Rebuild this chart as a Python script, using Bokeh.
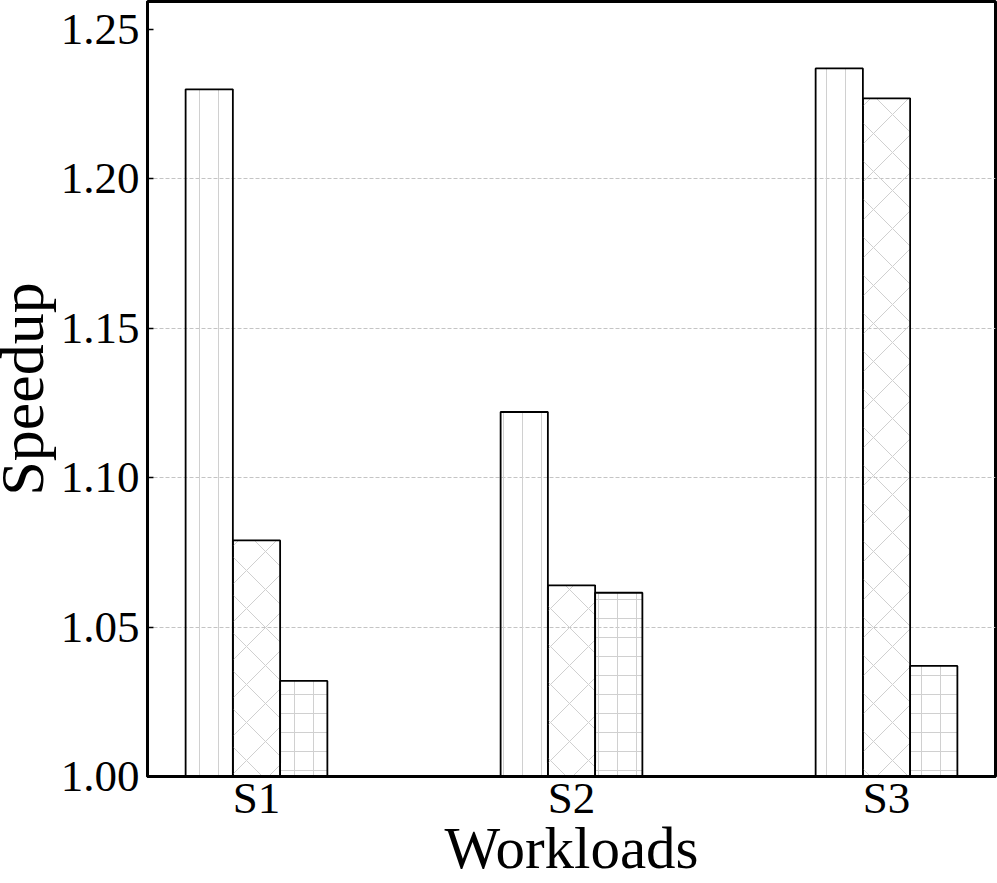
import numpy as np
from bokeh.plotting import figure
from bokeh.models import Range1d, FixedTicker, ColumnDataSource
from bokeh.embed import file_html
from bokeh.resources import INLINE

# ---- data ----
workloads = ["S1", "S2", "S3"]
series_a = [1.230, 1.122, 1.237]   # vertical-line hatch
series_b = [1.079, 1.064, 1.227]   # diagonal-cross hatch
series_c = [1.032, 1.0615, 1.037]  # grid hatch
y_ticks = [1.00, 1.05, 1.10, 1.15, 1.20, 1.25]
grid_ticks = [1.05, 1.10, 1.15, 1.20]

FONT = "Liberation Serif"
BAR_W = 0.15
SHIFT = 20  # figure is shifted left so the rotated label box can extend past the page edge
idx = np.arange(len(workloads))

p = figure(width=997 + SHIFT, height=883, output_backend="svg", toolbar_location=None,
           x_range=Range1d(-0.346, 2.346), y_range=Range1d(1.0, 1.2594),
           min_border_left=147 + SHIFT, min_border_right=2, min_border_top=1,
           min_border_bottom=106)
p.styles = {"margin-left": f"-{SHIFT}px"}
p.background_fill_color = "white"
p.border_fill_color = "white"
p.outline_line_color = "black"
p.outline_line_width = 3

specs = [
    (series_a, -BAR_W, "vertical_line", 19),
    (series_b, 0.0, "diagonal_cross", 38),
    (series_c, BAR_W, "cross", 19),
]
for vals, off, pat, sc in specs:
    src = ColumnDataSource(dict(x=idx + off, top=vals))
    p.vbar(x="x", top="top", bottom=1.0, width=BAR_W, source=src,
           fill_color=None, line_color="black", line_width=1.8,
           hatch_pattern=pat, hatch_color="#d0d0d0", hatch_weight=1,
           hatch_scale=sc)

# grid
p.xgrid.grid_line_color = None
p.ygrid.ticker = FixedTicker(ticks=grid_ticks)
p.ygrid.grid_line_color = "#c4c4c4"
p.ygrid.grid_line_dash = "4 2"
p.ygrid.grid_line_width = 1

# y axis
p.yaxis.ticker = FixedTicker(ticks=y_ticks)
p.yaxis.major_label_overrides = {t: f"{t:.2f}" for t in y_ticks}
p.yaxis.minor_tick_line_color = None
p.yaxis.major_tick_in = 6
p.yaxis.major_tick_out = 0
p.yaxis.major_tick_line_width = 1.5
p.yaxis.axis_line_width = 3
p.yaxis.major_label_standoff = 8
p.yaxis.axis_label = "Speedup"
p.yaxis.axis_label_standoff = 2
p.yaxis.axis_label_text_font_size = "62px"

# x axis
p.xaxis.ticker = FixedTicker(ticks=list(idx))
p.xaxis.major_label_overrides = {int(i): w for i, w in zip(idx, workloads)}
p.xaxis.minor_tick_line_color = None
p.xaxis.major_tick_line_color = None
p.xaxis.major_tick_in = 0
p.xaxis.major_tick_out = 0
p.xaxis.axis_line_width = 3
p.xaxis.major_label_standoff = -4
p.xaxis.axis_label = "Workloads"
p.xaxis.axis_label_standoff = -11
p.xaxis.axis_label_text_font_size = "59px"

for ax in (p.xaxis, p.yaxis):
    ax.axis_line_color = "black"
    ax.major_label_text_font = FONT
    ax.major_label_text_font_size = "45px"
    ax.major_label_text_color = "black"
    ax.axis_label_text_font = FONT
    ax.axis_label_text_font_style = "normal"
    ax.axis_label_text_color = "black"

open("out.html", "w").write(file_html(p, INLINE))
